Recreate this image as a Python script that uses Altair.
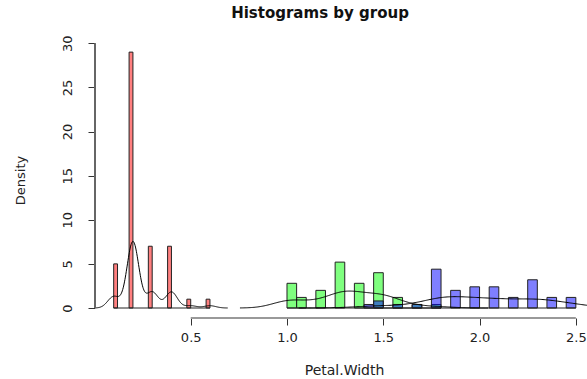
import altair as alt
import pandas as pd

# ---------------- data ----------------
species = ["setosa", "versicolor", "virginica"]
fill_colors = ["#FF0000", "#00FF00", "#0000FF"]

# histogram bins (left edge) and their density heights
bin_width = {"setosa": 0.02, "versicolor": 0.05, "virginica": 0.05}
setosa_bin_left = [0.10, 0.18, 0.28, 0.38, 0.48, 0.58]
setosa_density = [5, 29, 7, 7, 1, 1]
versicolor_bin_left = [1.00, 1.05, 1.15, 1.25, 1.35, 1.45, 1.55, 1.65, 1.75]
versicolor_density = [2.8, 1.2, 2.0, 5.2, 2.8, 4.0, 1.2, 0.4, 0.4]
virginica_bin_left = [1.40, 1.45, 1.55, 1.65, 1.75, 1.85, 1.95, 2.05, 2.15, 2.25, 2.35, 2.45]
virginica_density = [0.4, 0.8, 0.4, 0.4, 4.4, 2.0, 2.4, 2.4, 1.2, 3.2, 1.2, 1.2]

# raw petal widths (value, count) used for the density curves
setosa_values = [0.1, 0.2, 0.3, 0.4, 0.5, 0.6]
setosa_counts = [5, 29, 7, 7, 1, 1]
versicolor_values = [1.0, 1.1, 1.2, 1.3, 1.4, 1.5, 1.6, 1.7, 1.8]
versicolor_counts = [7, 3, 5, 13, 7, 10, 3, 1, 1]
virginica_values = [1.4, 1.5, 1.6, 1.7, 1.8, 1.9, 2.0, 2.1, 2.2, 2.3, 2.4, 2.5]
virginica_counts = [1, 2, 1, 1, 11, 5, 6, 6, 3, 8, 3, 3]
bandwidth = {"setosa": 0.0307, "versicolor": 0.0814, "virginica": 0.1131}

x_ticks = [0.5, 1.0, 1.5, 2.0, 2.5]
y_ticks = [0, 5, 10, 15, 20, 25, 30]
title_text = "Histograms by group"
x_title = "Petal.Width"
y_title = "Density"

# ---------------- tables ----------------
bins = {
    "setosa": (setosa_bin_left, setosa_density),
    "versicolor": (versicolor_bin_left, versicolor_density),
    "virginica": (virginica_bin_left, virginica_density),
}
rows = []
for s in species:
    lefts, dens = bins[s]
    for l, d in zip(lefts, dens):
        rows.append({"species": s, "left": l, "right": round(l + bin_width[s], 4), "density": d})
bars_df = pd.DataFrame(rows)

raw = {
    "setosa": (setosa_values, setosa_counts),
    "versicolor": (versicolor_values, versicolor_counts),
    "virginica": (virginica_values, virginica_counts),
}
obs_rows = []
for s in species:
    vals, cnts = raw[s]
    for v, c in zip(vals, cnts):
        obs_rows.extend([{"species": s, "pw": v}] * c)
obs_df = pd.DataFrame(obs_rows)

W, H = 492, 276
xscale = alt.Scale(domain=[0.003, 2.558], nice=False, zero=False)
yscale = alt.Scale(domain=[-1.133, 30.147], nice=False, zero=False)

x_axis = alt.Axis(
    values=x_ticks, format=".1f", domain=False, grid=False, tickSize=7,
    tickColor="#333", labelPadding=6, labelFontSize=13, labelColor="#222",
    labelFlush=False, title=x_title, titleX=249, titleY=56, titleAlign="center",
    titleBaseline="alphabetic", titleFontWeight="normal", titleFontSize=14,
    titleColor="#222",
)
y_axis = alt.Axis(
    values=y_ticks, domain=False, grid=False, tickSize=7, tickColor="#333",
    labelAngle=270, labelAlign="center", labelBaseline="bottom", labelPadding=14,
    labelFontSize=13, labelColor="#222", title=y_title, titleAngle=270,
    titleX=-75, titleY=138, titleAlign="center", titleBaseline="middle",
    titleFontWeight="normal", titleFontSize=13, titleColor="#222",
)

bars = alt.Chart(bars_df).mark_rect(
    stroke="#222", strokeWidth=1, fillOpacity=0.5
).encode(
    x=alt.X("left:Q", scale=xscale, axis=x_axis),
    x2="right:Q",
    y=alt.Y("density:Q", scale=yscale, axis=y_axis),
    y2=alt.datum(0),
    color=alt.Color("species:N", scale=alt.Scale(domain=species, range=fill_colors), legend=None),
)

baseline = alt.Chart(bars_df).transform_aggregate(
    lo="min(left)", hi="max(right)", groupby=["species"]
).mark_rule(color="#222", strokeWidth=1).encode(
    x=alt.X("lo:Q", axis=x_axis), x2="hi:Q", y=alt.datum(0)
)

density_layers = []
for s in species:
    vals = raw[s][0]
    bw = bandwidth[s]
    ext = [round(min(vals) - 3 * bw, 4), round(max(vals) + 3 * bw, 4)]
    density_layers.append(
        alt.Chart(obs_df).transform_filter(alt.datum.species == s).transform_density(
            "pw", as_=["pw", "dens"], bandwidth=bw, extent=ext, steps=300
        ).mark_line(color="black", strokeWidth=1, clip=True).encode(
            x=alt.X("pw:Q", axis=x_axis), y=alt.Y("dens:Q", axis=y_axis)
        )
    )

y_line = alt.Chart(pd.DataFrame({"lo": [min(y_ticks)], "hi": [max(y_ticks)]})).mark_rule(
    color="#666", strokeWidth=2
).encode(x=alt.value(0), y=alt.Y("lo:Q", axis=y_axis), y2="hi:Q")

x_line = alt.Chart(pd.DataFrame({"lo": [min(x_ticks)], "hi": [max(x_ticks)]})).mark_rule(
    color="#999", strokeWidth=2
).encode(y=alt.value(H), x=alt.X("lo:Q", axis=x_axis), x2="hi:Q")

title = alt.Chart(pd.DataFrame({"t": [title_text]})).mark_text(
    fontWeight="bold", fontSize=15, align="center", baseline="alphabetic", color="#111"
).encode(x=alt.value(225), y=alt.value(-24), text="t:N")

chart = alt.layer(bars, baseline, *density_layers, y_line, x_line, title).properties(
    width=W, height=H,
    autosize=alt.AutoSizeParams(type="none"),
    padding={"left": 95, "top": 42, "right": 0, "bottom": 61},
).configure(font="DejaVu Sans").configure_view(strokeWidth=0)

chart.save("out.html", embed_options={"renderer": "svg", "actions": False})
